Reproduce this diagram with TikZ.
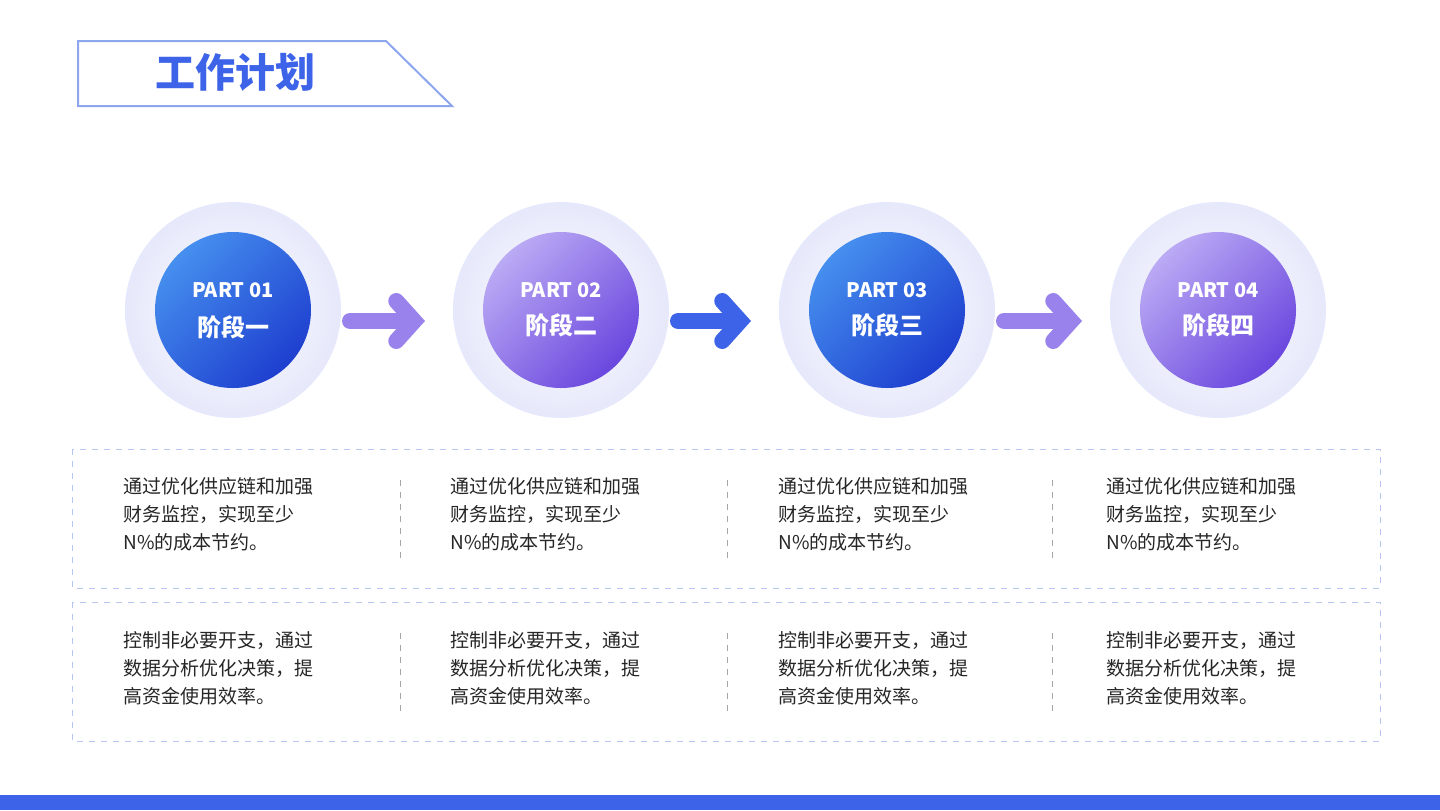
\documentclass[tikz,border=0pt]{standalone}
\usepackage{fontspec}
\setmainfont{Noto Sans CJK SC}
\usepackage{xcolor}
\usetikzlibrary{arrows.meta,shadows,calc}
\definecolor{mainblue}{HTML}{3D63E8}
\definecolor{deepblue}{HTML}{1E3FCF}
\definecolor{lightpurple}{HTML}{BBAAF4}
\definecolor{deeppurple}{HTML}{6A47DE}
\definecolor{arrowpurple}{HTML}{9A82EC}
\definecolor{halo}{HTML}{E6E8FB}
\definecolor{framecol}{HTML}{8EA6EE}
\definecolor{boxline}{HTML}{B7C6F2}

\begin{document}
\begin{tikzpicture}[x=0.5pt, y=-0.5pt,
  halonode/.style={circle, minimum size=216pt*0.5, inner color=white, outer color=halo},
  bluedisc/.style={circle, minimum size=156pt*0.5, top color=mainblue!80!cyan!90, bottom color=deepblue, shading angle=45, text=white, align=center},
  purpledisc/.style={circle, minimum size=156pt*0.5, top color=lightpurple, bottom color=deeppurple, shading angle=45, text=white, align=center},
  stagearrow/.style={line width=8pt, line cap=round, -{Straight Barb[length=9pt, width=20pt, line cap=round]}, shorten <=9pt*0.5, shorten >=28pt*0.5},
  infobox/.style={draw=boxline, dashed, fill=white, drop shadow={shadow xshift=0pt, shadow yshift=0pt, opacity=0.15, color=halo!60!blue}},
  divider/.style={draw=gray!70, dashed, line width=0.4pt},
  bodytext/.style={anchor=north west, align=left, font=\fontsize{9.5}{14}\selectfont, text=black!85, inner sep=0pt}]
\useasboundingbox (0,0) rectangle (1440,810);

% title
\draw[framecol, line width=1pt] (78,41) -- (386,41) -- (452,106) -- (78,106) -- cycle;
\node (title) at (235,72) {\fontsize{20}{24}\selectfont\bfseries\color{mainblue}工作计划};

% stages
\foreach \i/\x/\sty in {1/233/bluedisc, 2/561/purpledisc, 3/887/bluedisc, 4/1218/purpledisc} {
  \node[halonode] (h\i) at (\x,310) {};
  \node[\sty] (p\i) at (\x,310) {};
  \node[text=white, font=\fontsize{10}{12}\selectfont\bfseries] (pt\i) at (\x,290) {PART 0\i};
}
\node[text=white, font=\fontsize{12}{14}\selectfont\bfseries] (s1) at (233,327) {阶段一};
\node[text=white, font=\fontsize{12}{14}\selectfont\bfseries] (s2) at (561,325) {阶段二};
\node[text=white, font=\fontsize{12}{14}\selectfont\bfseries] (s3) at (887,325) {阶段三};
\node[text=white, font=\fontsize{12}{14}\selectfont\bfseries] (s4) at (1218,325) {阶段四};

% arrows
\coordinate (a1) at (341,321); \coordinate (b1) at (453,321);
\coordinate (a2) at (669,321); \coordinate (b2) at (779,321);
\coordinate (a3) at (995,321); \coordinate (b3) at (1110,321);
\draw[stagearrow, arrowpurple] (a1) -- (b1);
\draw[stagearrow, mainblue] (a2) -- (b2);
\draw[stagearrow, arrowpurple] (a3) -- (b3);

% text boxes
\path[infobox] (72,449) rectangle (1380,588);
\path[infobox] (72,602) rectangle (1380,741);
\foreach \x in {400,727,1052} {
  \draw[divider] (\x,480) -- (\x,562);
  \draw[divider] (\x,633) -- (\x,715);
}
\foreach \i/\x in {1/123,2/450,3/778,4/1106} {
  \node[bodytext] (ta\i) at (\x,477) {通过优化供应链和加强\\财务监控，实现至少\\N\%的成本节约。};
  \node[bodytext] (tb\i) at (\x,631) {控制非必要开支，通过\\数据分析优化决策，提\\高资金使用效率。};
}

% bottom bar
\fill[mainblue] (0,795) rectangle (1440,810);
\end{tikzpicture}
\end{document}
